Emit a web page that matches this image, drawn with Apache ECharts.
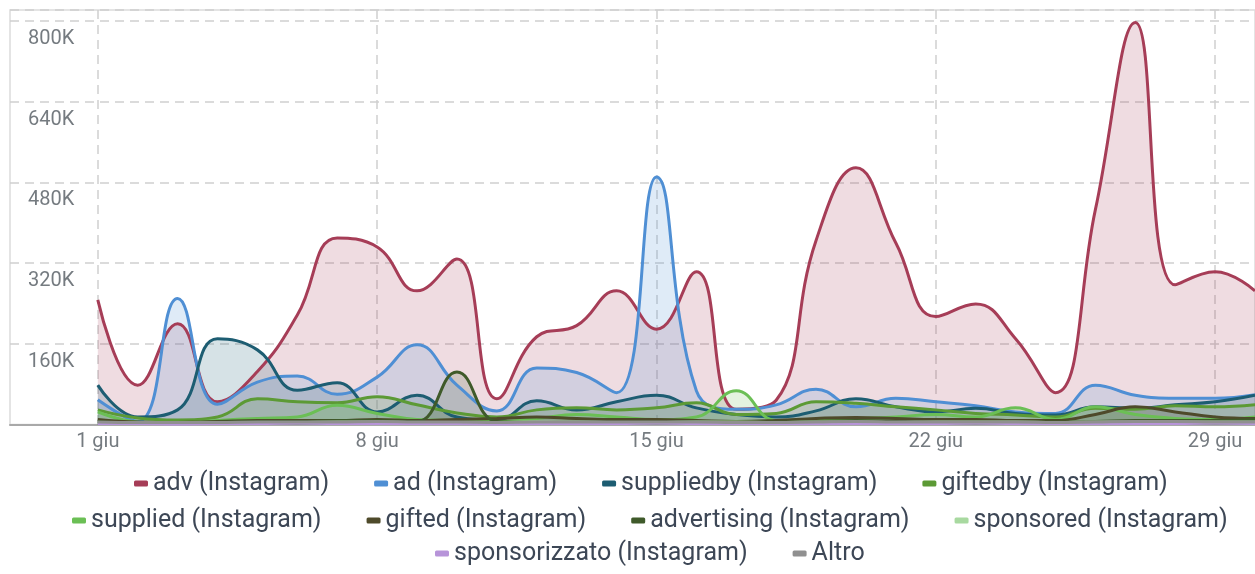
<!DOCTYPE html>
<html>
<head>
<meta charset="utf-8">
<script src="https://cdn.jsdelivr.net/npm/echarts@6/dist/echarts.min.js"></script>
<style>
  html, body { margin: 0; padding: 0; background: #fff; }
  #chart { width: 1255px; height: 574px; }
</style>
</head>
<body>
<div id="chart"></div>
<script>
// giorni di giugno
const days = [1, 2, 3, 4, 5, 6, 7, 8, 9, 10, 11, 12, 13, 14, 15, 16, 17, 18, 19, 20, 21, 22, 23, 24, 25, 26, 27, 28, 29, 30]
const dayTicks = [1, 8, 15, 22, 29]
const yTicks = [160000, 320000, 480000, 640000, 800000]

// valori in migliaia
const adv = [247, 78, 200, 45, 105, 217, 370, 352, 265, 328, 51, 174, 196, 265, 189, 303, 30, 48, 365, 509, 360, 214, 239, 170, 63, 426, 797, 277, 303, 265]
const ad = [49, 6, 250, 40, 84, 96, 60, 94, 158, 78, 27, 112, 103, 63, 491, 67, 30, 39, 70, 35, 52, 45, 37, 25, 22, 78, 58, 52, 52, 59]
const suppliedby = [78, 15, 29, 170, 148, 68, 83, 25, 58, 15, 9, 47, 29, 45, 58, 33, 20, 15, 27, 51, 35, 25, 32, 22, 19, 35, 32, 39, 45, 58]
const giftedby = [29, 13, 9, 15, 51, 45, 43, 55, 39, 23, 15, 29, 33, 29, 33, 43, 20, 22, 45, 42, 35, 29, 22, 19, 15, 32, 30, 37, 35, 39]
const supplied = [25, 5, 3, 8, 12, 15, 38, 22, 10, 8, 6, 12, 20, 15, 10, 15, 67, 8, 10, 12, 15, 20, 15, 33, 10, 35, 20, 12, 10, 15]
const gifted = [10, 5, 4, 6, 8, 8, 8, 10, 8, 10, 12, 15, 12, 10, 10, 8, 6, 8, 12, 14, 12, 10, 10, 8, 8, 20, 35, 25, 15, 12]
const advertising = [6, 3, 3, 5, 6, 6, 8, 8, 6, 104, 6, 4, 5, 5, 5, 6, 5, 5, 6, 8, 6, 5, 5, 5, 5, 6, 8, 8, 8, 10]
const sponsored = [4, 3, 3, 3, 4, 4, 5, 5, 4, 4, 4, 5, 5, 4, 4, 5, 5, 4, 5, 5, 4, 5, 5, 5, 4, 5, 5, 5, 5, 5]
const sponsorizzato = [2, 2, 1, 2, 2, 3, 2, 2, 2, 2, 1, 2, 2, 2, 3, 2, 2, 2, 2, 2, 2, 2, 3, 2, 2, 2, 2, 2, 3, 2]
const altro = [5, 4, 4, 4, 5, 5, 5, 6, 5, 5, 4, 5, 5, 5, 5, 5, 4, 4, 5, 6, 5, 5, 5, 5, 4, 5, 6, 6, 5, 5]

const seriesDefs = [
  { name: 'adv (Instagram)', values: adv, color: '#a63d57' },
  { name: 'ad (Instagram)', values: ad, color: '#4f8fd4' },
  { name: 'suppliedby (Instagram)', values: suppliedby, color: '#1d5d72' },
  { name: 'giftedby (Instagram)', values: giftedby, color: '#5c9a35' },
  { name: 'supplied (Instagram)', values: supplied, color: '#6bbf55' },
  { name: 'gifted (Instagram)', values: gifted, color: '#4e4a2a' },
  { name: 'advertising (Instagram)', values: advertising, color: '#3f5a2a' },
  { name: 'sponsored (Instagram)', values: sponsored, color: '#a8d9a0' },
  { name: 'sponsorizzato (Instagram)', values: sponsorizzato, color: '#b794d9' },
  { name: 'Altro', values: altro, color: '#909090' }
]

// tre righe di legenda, ognuna centrata a mano
const legendRows = [
  { names: seriesDefs.slice(0, 4).map(s => s.name), left: 129, top: 466 },
  { names: seriesDefs.slice(4, 8).map(s => s.name), left: 67, top: 503 },
  { names: seriesDefs.slice(8).map(s => s.name), left: 430, top: 536 }
]

const chart = echarts.init(document.getElementById('chart'))

chart.setOption({
  animation: false,
  color: seriesDefs.map(s => s.color),
  textStyle: { fontFamily: 'Roboto' },
  grid: {
    left: 10,
    right: -6,
    top: 10,
    bottom: 149.5,
    show: true,
    borderColor: '#dcdcdc',
    borderWidth: 1.5
  },
  legend: legendRows.map(r => ({
    data: r.names,
    left: r.left,
    top: r.top,
    orient: 'horizontal',
    icon: 'roundRect',
    itemWidth: 14,
    itemHeight: 6,
    itemGap: 45,
    textStyle: { fontSize: 25, color: '#3d4756', fontFamily: 'Roboto' }
  })),
  xAxis: {
    type: 'value',
    min: -1.2,
    max: 30,
    axisLine: { show: true, lineStyle: { color: '#a9a9a9', width: 2 } },
    axisTick: { show: false, customValues: dayTicks },
    axisLabel: {
      customValues: dayTicks,
      formatter: v => v + ' giu',
      color: '#757b80',
      fontSize: 20,
      margin: 7
    },
    splitLine: {
      show: true,
      lineStyle: { color: '#cfcfcf', type: [9, 6], width: 1.5 }
    }
  },
  yAxis: {
    type: 'value',
    min: 0,
    max: 822000,
    interval: 160000,
    axisLine: { show: false },
    axisTick: { show: false },
    axisLabel: {
      inside: true,
      margin: 18,
      verticalAlign: 'top',
      lineHeight: 20,
      padding: [8, 0, 0, 0],
      color: '#757b80',
      fontSize: 20,
      formatter: v => yTicks.includes(v) ? (v / 1000) + 'K' : ''
    },
    splitLine: {
      lineStyle: { color: '#cfcfcf', type: [9, 6], width: 1.5 }
    }
  },
  series: seriesDefs.map(s => ({
    name: s.name,
    type: 'line',
    smooth: 0.45,
    showSymbol: false,
    clip: true,
    data: days.map((d, i) => [d, s.values[i] * 1000]),
    lineStyle: { color: s.color, width: 3 },
    itemStyle: { color: s.color },
    areaStyle: { color: s.color, opacity: 0.18 }
  }))
})
</script>
</body>
</html>
